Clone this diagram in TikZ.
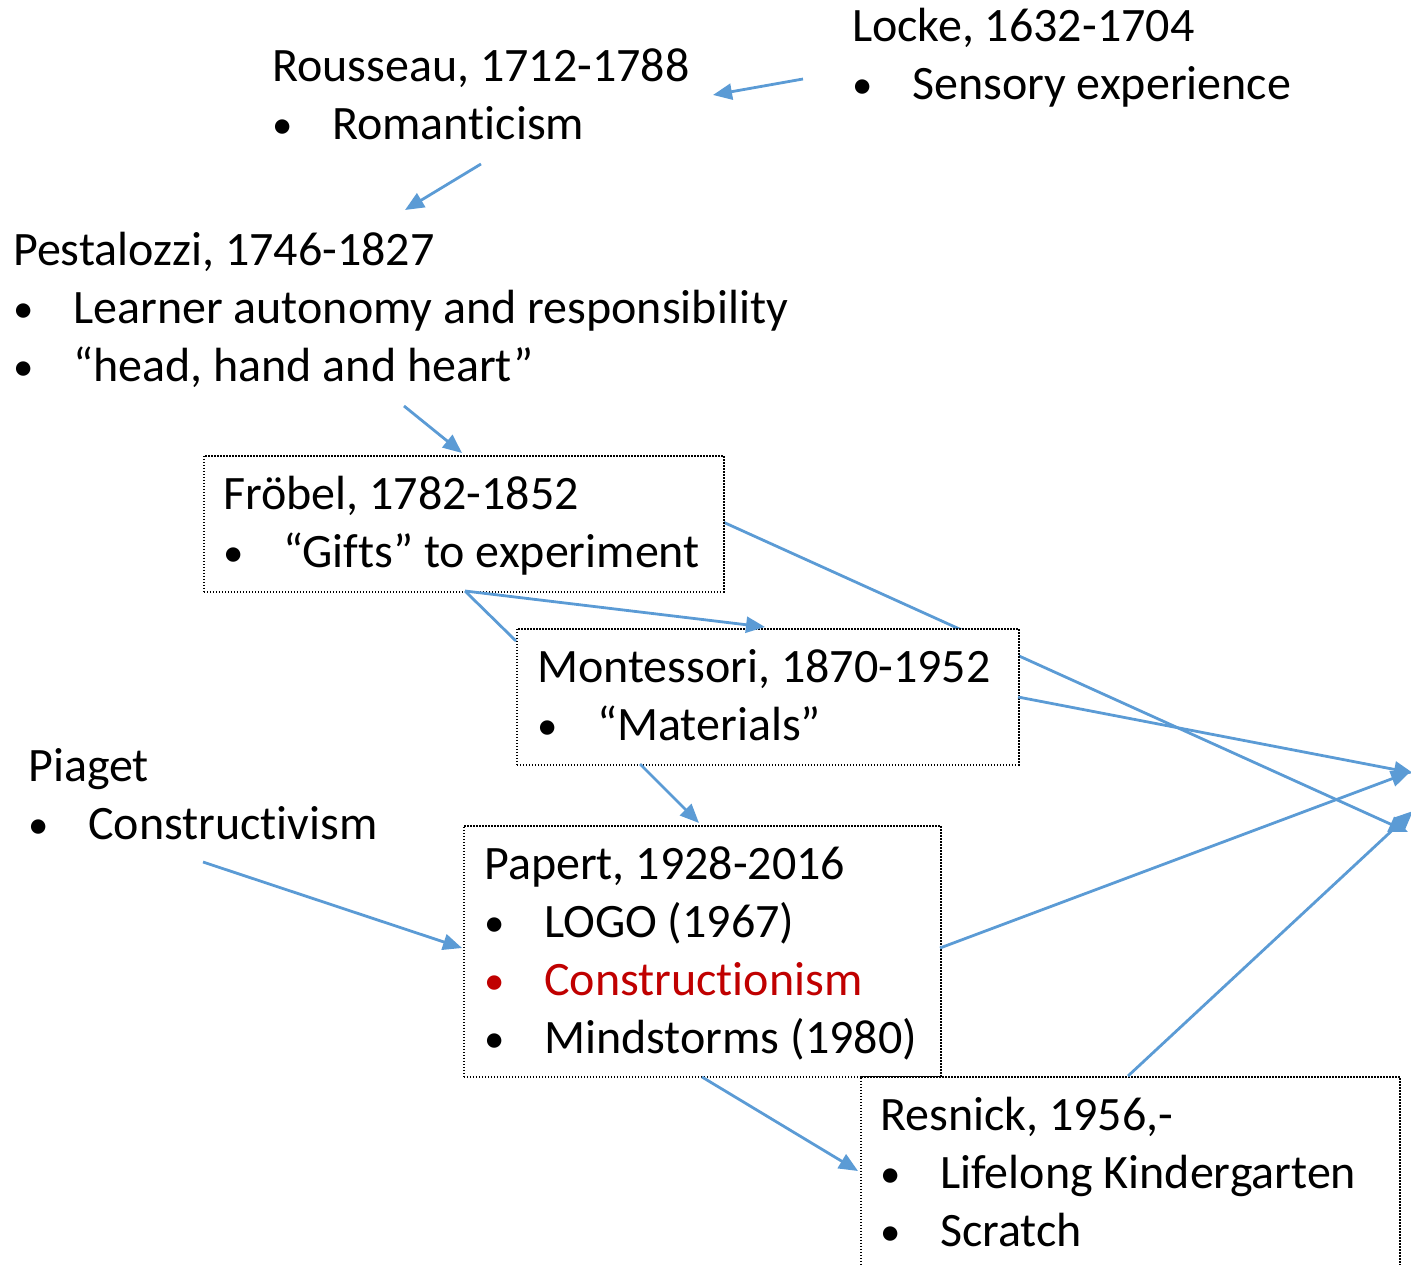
\documentclass[tikz,border=0pt]{standalone}
\usepackage{fontspec}
\setmainfont{Carlito}[Ligatures={NoCommon,NoRare,NoContextual}]
\usetikzlibrary{arrows.meta}
\definecolor{arrowblue}{HTML}{5B9BD5}
\definecolor{darkred}{HTML}{C00000}
\newcommand{\bl}[1]{\makebox[60pt][l]{\raisebox{1pt}{\scalebox{0.85}{•}}}#1}
\begin{document}
\begin{tikzpicture}[x=1pt,y=-1pt,
  txt/.style={anchor=base west,inner sep=0pt,font=\fontsize{48}{58}\selectfont},
  boxst/.style={draw=black,line width=1.5pt,dash pattern=on 1.5pt off 1.5pt,fill=white,anchor=north west,inner sep=0pt},
  conn/.style={draw=arrowblue,line width=2.8pt,-{Triangle[length=19pt,width=16pt]}},
  plain/.style={draw=arrowblue,line width=2.8pt}]
\useasboundingbox (0,0) rectangle (1411,1265);

% endpoint coordinates
\coordinate (lockeS) at (803,79);   \coordinate (rousE) at (713,95);
\coordinate (rousS) at (481,164);   \coordinate (pestN) at (405,210);
\coordinate (pestS) at (404,406);   \coordinate (frobN) at (462,453);
\coordinate (frobS) at (465,591);   \coordinate (montN) at (765,627);
\coordinate (montW) at (516,641);
\coordinate (montS) at (640,764);   \coordinate (papN) at (699,823);
\coordinate (piaS) at (203,862);    \coordinate (papW) at (462,948);
\coordinate (papS) at (702,1077);   \coordinate (resW) at (858,1171);
\coordinate (frobE) at (723,522);   \coordinate (tgtB) at (1408,832);
\coordinate (montE) at (1018,697);  \coordinate (tgtA) at (1413,773);
\coordinate (papE) at (940,948);    \coordinate (tgtA2) at (1410,772);
\coordinate (resN) at (1128,1076);  \coordinate (tgtC) at (1413,811);

% long connector behind Montessori box
\draw[conn] (frobE) -- (tgtB);

% boxes
\node[boxst,minimum width=520pt,minimum height=136pt] (frobbox) at (203,455) {};
\node[boxst,minimum width=502pt,minimum height=136pt] (montbox) at (516,628) {};
\node[boxst,minimum width=477pt,minimum height=251pt] (papbox) at (463,825) {};
\node[boxst,minimum width=539pt,minimum height=220pt] (resbox) at (860,1076) {};

% texts
\node[txt] (locke) at (852,42) {\begin{tabular}[t]{@{}l@{}}Locke, 1632-1704\\ \bl{Sensory experience}\end{tabular}};
\node[txt] (rous) at (272,82) {\begin{tabular}[t]{@{}l@{}}Rousseau, 1712-1788\\ \bl{Romanticism}\end{tabular}};
\node[txt] (pest) at (13,266) {\begin{tabular}[t]{@{}l@{}}Pestalozzi, 1746-1827\\ \bl{Learner autonomy and responsibility}\\ \bl{“head, hand and heart”}\end{tabular}};
\node[txt] (frob) at (223,509) {\begin{tabular}[t]{@{}l@{}}Fröbel, 1782-1852\\ \bl{“Gifts” to experiment}\end{tabular}};
\node[txt] (mont) at (537,682) {\begin{tabular}[t]{@{}l@{}}Montessori, 1870-1952\\ \bl{“Materials”}\end{tabular}};
\node[txt] (piaget) at (28,781) {\begin{tabular}[t]{@{}l@{}}Piaget\\ \bl{Constructivism}\end{tabular}};
\node[txt] (papert) at (484,879) {\begin{tabular}[t]{@{}l@{}}Papert, 1928-2016\\ \bl{LOGO (1967)}\\ {\color{darkred}\bl{Constructionism}}\\ \bl{Mindstorms (1980)}\end{tabular}};
\node[txt] (resnick) at (880,1130) {\begin{tabular}[t]{@{}l@{}}Resnick, 1956,-\\ \bl{Lifelong Kindergarten}\\ \bl{Scratch}\end{tabular}};

% connectors
\draw[conn] (lockeS) -- (rousE);
\draw[conn] (rousS) -- (pestN);
\draw[conn] (pestS) -- (frobN);
\draw[conn] (frobS) -- (montN);
\draw[plain] (frobS) -- (montW);
\draw[conn] (montS) -- (papN);
\draw[conn] (piaS) -- (papW);
\draw[conn] (papS) -- (resW);
\draw[conn] (montE) -- (tgtA);
\draw[conn] (papE) -- (tgtA2);
\draw[conn] (resN) -- (tgtC);
\end{tikzpicture}
\end{document}
